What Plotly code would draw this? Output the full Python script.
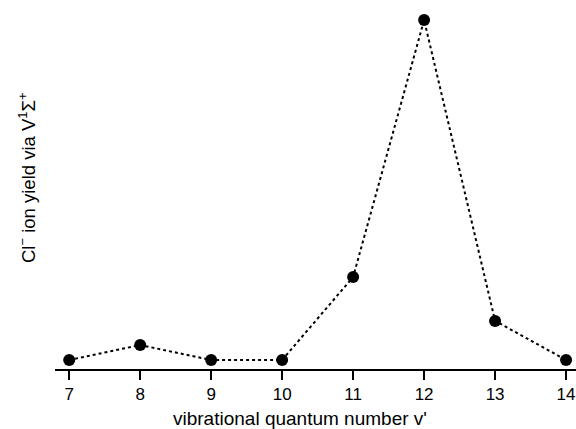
import plotly.graph_objects as go

v_levels = [7, 8, 9, 10, 11, 12, 13, 14]
ion_yield = [0.0, 0.044, 0.0, 0.0, 0.244, 1.0, 0.115, 0.0]
tick_labels = ["7", "8", "9", "10", "11", "12", "13", "14"]

fig = go.Figure()
fig.add_trace(go.Scatter(
    x=v_levels, y=ion_yield, mode="lines+markers",
    line=dict(color="black", width=2, dash="dot"),
    marker=dict(color="black", size=12),
    showlegend=False,
))

FONT = "Liberation Sans, Arial, sans-serif"
fig.update_layout(
    width=576, height=429,
    margin=dict(l=55, r=0, t=10, b=60),
    plot_bgcolor="white", paper_bgcolor="white",
    font=dict(family=FONT, color="black"),
    xaxis=dict(
        range=[6.8, 14.14], tickvals=v_levels, ticktext=tick_labels,
        showgrid=False, zeroline=False, showline=True, linecolor="black", linewidth=2,
        ticks="outside", ticklen=9, tickwidth=2, tickcolor="black",
        tickfont=dict(size=17, family=FONT, color="black"),
    ),
    yaxis=dict(
        range=[-0.0265, 1.0294], showgrid=False, zeroline=False, showline=False,
        showticklabels=False, ticks="",
    ),
    annotations=[
        dict(text="vibrational quantum number v'", xref="paper", yref="paper",
             x=(300 - 55) / 521, y=-(418 - 369) / 359, showarrow=False,
             xanchor="center", yanchor="middle",
             font=dict(size=19, family=FONT, color="black")),
        dict(text="Cl<sup>\u2212</sup> ion yield via V<sup>1</sup>\u03a3<sup>+</sup>",
             xref="paper", yref="paper",
             x=-(55 - 27) / 521, y=(369 - 178) / 359, showarrow=False,
             textangle=-90, xanchor="center", yanchor="middle",
             font=dict(size=18.5, family=FONT, color="black")),
    ],
)

fig.write_html("out.html")
